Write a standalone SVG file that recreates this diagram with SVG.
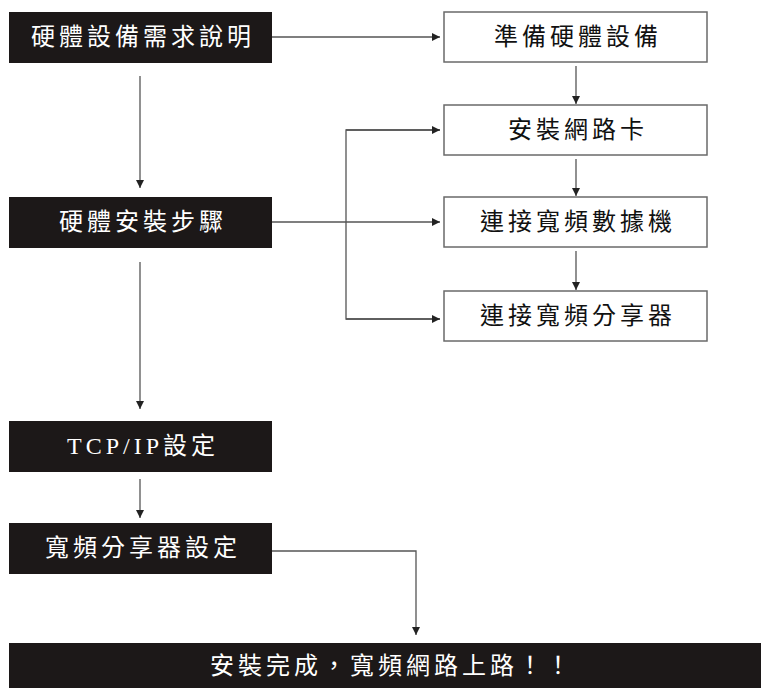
<svg xmlns="http://www.w3.org/2000/svg" width="761" height="688" viewBox="0 0 761 688">
<style>
.dark{fill:#1c1818;}
.light{fill:#ffffff;stroke:#6a6a6a;stroke-width:1.5;}
.t{font-family:"Liberation Serif","Noto Sans CJK TC",serif;font-size:24px;text-anchor:middle;dominant-baseline:central;letter-spacing:4px;}
.w{fill:#ffffff;}
.b{fill:#111111;}
.c{fill:none;stroke:#555555;stroke-width:1.3;}
</style>
<defs>
<marker id="ah" markerWidth="10" markerHeight="10" refX="9" refY="5" orient="auto" markerUnits="userSpaceOnUse">
<path d="M1,1 L9,5 L1,9 Z" fill="#222222"/>
</marker>
</defs>
<rect width="761" height="688" fill="#ffffff"/>
<g id="connectors">
<line class="c" x1="272" y1="37" x2="440" y2="37" marker-end="url(#ah)"/>
<line class="c" x1="140" y1="76" x2="140" y2="188" marker-end="url(#ah)"/>
<line class="c" x1="576" y1="66" x2="576" y2="104" marker-end="url(#ah)"/>
<line class="c" x1="576" y1="159" x2="576" y2="196" marker-end="url(#ah)"/>
<line class="c" x1="576" y1="251" x2="576" y2="290" marker-end="url(#ah)"/>
<line class="c" x1="272" y1="222" x2="440" y2="222" marker-end="url(#ah)"/>
<polyline class="c" points="440,130 346,130 346,319 440,319"/>
<line class="c" x1="346" y1="130" x2="440" y2="130" marker-end="url(#ah)"/>
<line class="c" x1="346" y1="319" x2="440" y2="319" marker-end="url(#ah)"/>
<line class="c" x1="140" y1="262" x2="140" y2="409" marker-end="url(#ah)"/>
<line class="c" x1="140" y1="479" x2="140" y2="518" marker-end="url(#ah)"/>
<polyline class="c" points="272,551 416,551 416,635" marker-end="url(#ah)"/>
</g>
<g id="n1">
<rect class="dark" x="9" y="12" width="263" height="51"/>
<text class="t w" x="143" y="37">硬體設備需求說明</text>
</g>
<g id="n2">
<rect class="dark" x="9" y="197" width="263" height="51"/>
<text class="t w" x="143" y="222">硬體安裝步驟</text>
</g>
<g id="n3">
<rect class="dark" x="9" y="421" width="263" height="51"/>
<text class="t w" x="143" y="446">TCP/IP設定</text>
</g>
<g id="n4">
<rect class="dark" x="9" y="523" width="263" height="51"/>
<text class="t w" x="143" y="548">寬頻分享器設定</text>
</g>
<g id="r1">
<rect class="light" x="444" y="12" width="263" height="50"/>
<text class="t b" x="578" y="37">準備硬體設備</text>
</g>
<g id="r2">
<rect class="light" x="444" y="105" width="263" height="50"/>
<text class="t b" x="578" y="130">安裝網路卡</text>
</g>
<g id="r3">
<rect class="light" x="444" y="197" width="263" height="50"/>
<text class="t b" x="578" y="222">連接寬頻數據機</text>
</g>
<g id="r4">
<rect class="light" x="444" y="291" width="263" height="50"/>
<text class="t b" x="578" y="316">連接寬頻分享器</text>
</g>
<g id="end">
<rect class="dark" x="9" y="643" width="752" height="45"/>
<text class="t w" x="392" y="666">安裝完成，寬頻網路上路！！</text>
</g>
</svg>
